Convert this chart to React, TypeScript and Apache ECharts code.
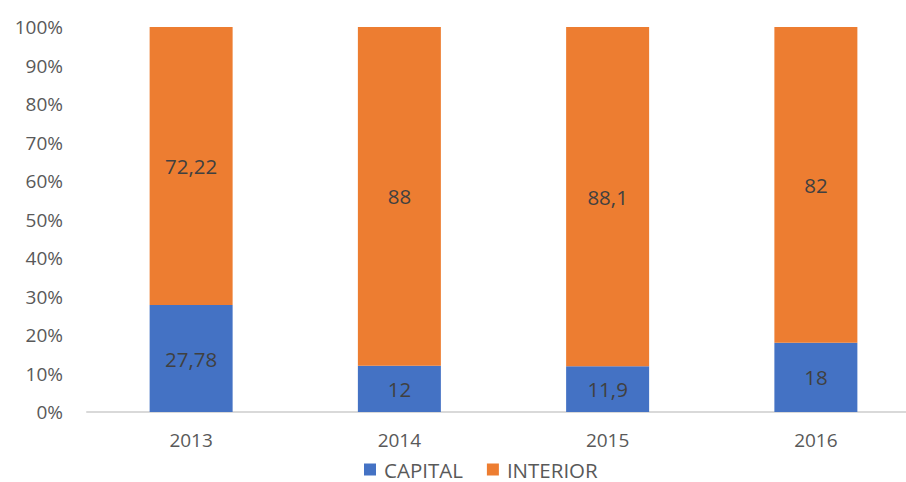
import React, { useEffect, useRef } from "react";
import * as echarts from "echarts";

const categories = ["2013", "2014", "2015", "2016"];
const capital = [27.78, 12, 11.9, 18];
const interior = [72.22, 88, 88.1, 82];
const capitalLabels = ["27,78", "12", "11,9", "18"];
const interiorLabels = ["72,22", "88", "88,1", "82"];

export default function App() {
  const ref = useRef<HTMLDivElement>(null);
  useEffect(() => {
    const chart = echarts.init(ref.current!, null, { renderer: "svg" });
    const font = "'Open Sans', 'Noto Sans', sans-serif";
    chart.setOption({
      animation: false,
      textStyle: { fontFamily: font },
      grid: { left: 87, right: 0, top: 27, bottom: 70, containLabel: false },
      legend: {
        data: ["CAPITAL", "INTERIOR"],
        left: 364,
        top: 459,
        padding: 0,
        itemWidth: 12,
        itemHeight: 12,
        itemGap: 24,
        icon: "rect",
        textStyle: { fontSize: 20.5, color: "#595959", fontFamily: font, padding: [0, 0, 0, 3] },
      },
      xAxis: {
        type: "category",
        data: categories,
        axisLine: { lineStyle: { color: "#D9D9D9", width: 2 } },
        axisTick: { show: false },
        axisLabel: { fontSize: 19, color: "#595959", margin: 18, fontFamily: font },
      },
      yAxis: {
        type: "value",
        min: 0,
        max: 100,
        interval: 10,
        splitLine: { show: false },
        axisLine: { show: false },
        axisTick: { show: false },
        axisLabel: { fontSize: 19, color: "#595959", margin: 24, formatter: "{value}%", fontFamily: font },
      },
      series: [
        {
          name: "CAPITAL",
          type: "bar",
          stack: "total",
          barWidth: 83,
          data: capital,
          itemStyle: { color: "#4472C4" },
          label: {
            show: true,
            position: "inside",
            fontSize: 20.5,
            color: "#404040",
            fontFamily: font,
            formatter: (p: any) => capitalLabels[p.dataIndex],
          },
        },
        {
          name: "INTERIOR",
          type: "bar",
          stack: "total",
          barWidth: 83,
          data: interior,
          itemStyle: { color: "#ED7D31" },
          label: {
            show: true,
            position: "inside",
            fontSize: 20.5,
            color: "#404040",
            fontFamily: font,
            formatter: (p: any) => interiorLabels[p.dataIndex],
          },
        },
      ],
    });
    return () => chart.dispose();
  }, []);
  return (
    <div
      ref={ref}
      style={{ position: "fixed", left: 0, top: 0, width: 920, height: 482, background: "#fff" }}
    />
  );
}
